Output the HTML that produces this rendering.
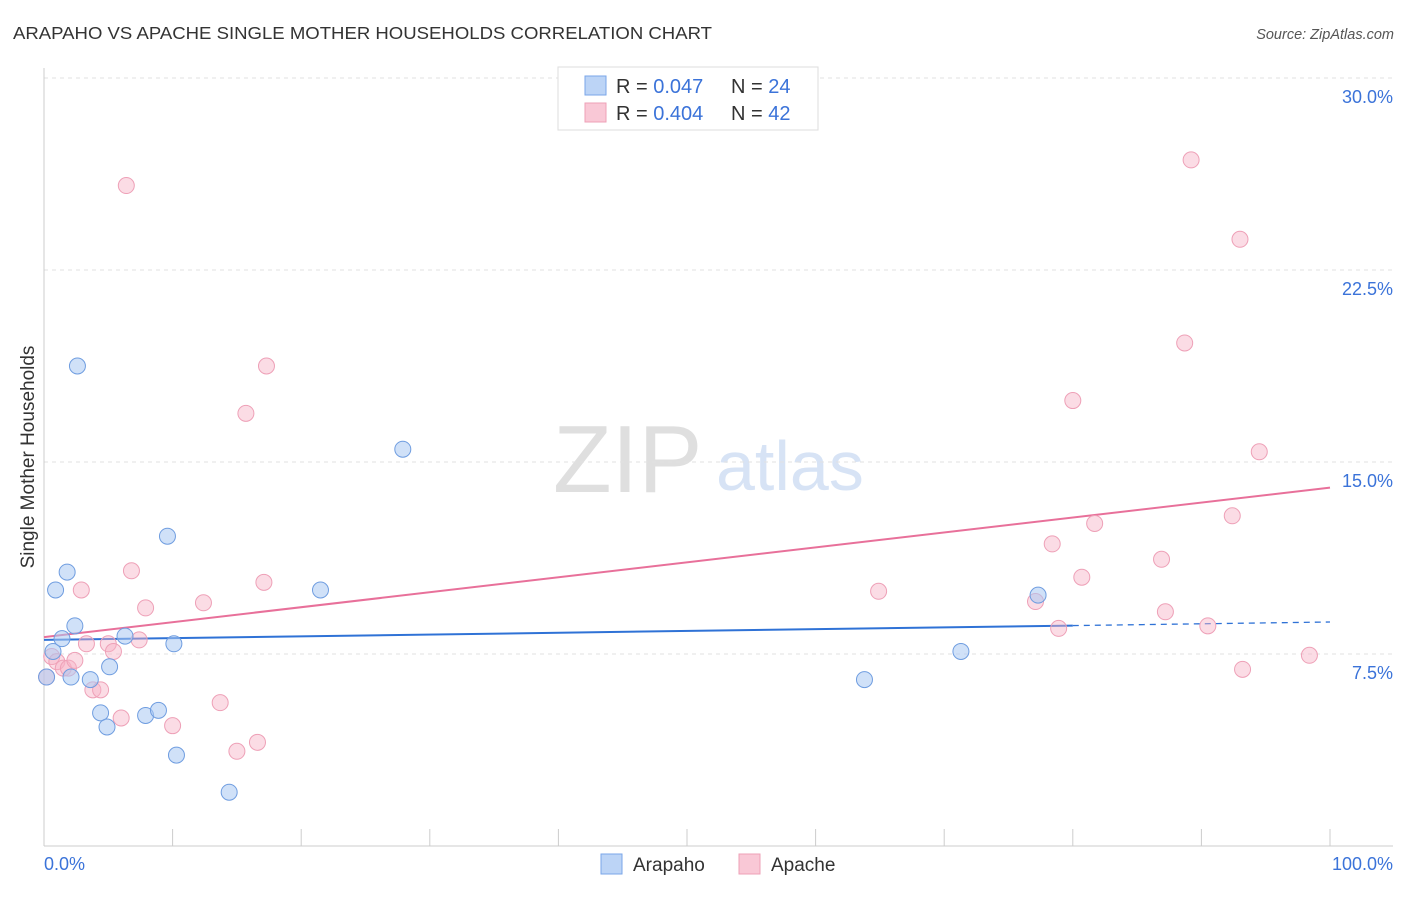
<!DOCTYPE html>
<html><head><meta charset="utf-8"><style>
body{margin:0;background:#fff;font-family:"Liberation Sans",sans-serif;}
svg text{font-family:"Liberation Sans",sans-serif;}
</style></head><body>
<svg id="chart" width="1406" height="892" xmlns="http://www.w3.org/2000/svg">
<text x="13" y="39" font-size="17.5" fill="#333" textLength="699" lengthAdjust="spacingAndGlyphs">ARAPAHO VS APACHE SINGLE MOTHER HOUSEHOLDS CORRELATION CHART</text>
<text x="1394" y="39" font-size="14.5" fill="#555" font-style="italic" text-anchor="end">Source: ZipAtlas.com</text>
<g opacity="0.9">
<text x="553" y="492" font-size="96" font-family="Liberation Serif,serif" fill="#dcdcdc">ZIP</text>
<text x="716" y="490" font-size="70" fill="#d3e1f5">atlas</text>
</g>
<g id="grid"></g>
<line x1="44" y1="68" x2="44" y2="846" stroke="#ccc"/>
<line x1="44" y1="846" x2="1393" y2="846" stroke="#ccc"/>
<g id="xticks"></g>
<text x="34" y="457" font-size="19" fill="#333" text-anchor="middle" transform="rotate(-90 34 457)">Single Mother Households</text>
<text x="44" y="870" font-size="18" fill="#3b73d9">0.0%</text>
<text x="1393" y="870" font-size="18" fill="#3b73d9" text-anchor="end">100.0%</text>
<g id="trends"></g>
<g id="points"></g>
<g>
<rect x="558" y="67" width="260" height="63" fill="#fff" stroke="#ddd"/>
<rect x="585" y="76" width="21" height="19" fill="#bcd4f6" stroke="#7aa6e8"/>
<text x="616" y="93" font-size="20" fill="#333">R = <tspan fill="#3b73d9">0.047</tspan></text>
<text x="731" y="93" font-size="20" fill="#333">N = <tspan fill="#3b73d9">24</tspan></text>
<rect x="585" y="103" width="21" height="19" fill="#f9c8d6" stroke="#eea0b7"/>
<text x="616" y="120" font-size="20" fill="#333">R = <tspan fill="#3b73d9">0.404</tspan></text>
<text x="731" y="120" font-size="20" fill="#333">N = <tspan fill="#3b73d9">42</tspan></text>
</g>
<g>
<rect x="601" y="854" width="21" height="20" fill="#bcd4f6" stroke="#7aa6e8"/>
<text x="633" y="871" font-size="19" fill="#333">Arapaho</text>
<rect x="739" y="854" width="21" height="20" fill="#f9c8d6" stroke="#eea0b7"/>
<text x="771" y="871" font-size="19" fill="#333">Apache</text>
</g>
</svg>
<script>
const yTicks=[7.5,15,22.5,30];
const yTickLabels=["7.5%","15.0%","22.5%","30.0%"];
const xTicks=[0,10,20,30,40,50,60,70,80,90,100];
const arapahoX=[0.2,0.7,0.9,1.4,1.8,2.1,2.4,2.6,3.6,4.4,4.9,5.1,6.3,7.9,8.9,9.6,10.1,10.3,14.4,21.5,27.9,63.8,71.3,77.3];
const arapahoY=[6.6,7.6,10.0,8.1,10.7,6.6,8.6,18.75,6.5,5.2,4.65,7.0,8.2,5.1,5.3,12.1,7.9,3.55,2.1,10.0,15.5,6.5,7.6,9.8];
const apacheX=[0.2,0.6,1.0,1.5,1.9,2.4,2.9,3.3,3.8,4.4,5.0,5.4,6.0,6.4,6.8,7.4,7.9,10.0,12.4,13.7,15.0,15.7,16.6,17.1,17.3,64.9,77.1,78.4,78.9,80.0,80.7,81.7,86.9,87.2,88.7,89.2,90.5,92.4,93.0,93.2,94.5,98.4];
const apacheY=[6.6,7.4,7.2,6.95,6.95,7.25,10.0,7.9,6.1,6.1,7.9,7.6,5.0,25.8,10.75,8.05,9.3,4.7,9.5,5.6,3.7,16.9,4.05,10.3,18.75,9.95,9.55,11.8,8.5,17.4,10.5,12.6,11.2,9.15,19.65,26.8,8.6,12.9,23.7,6.9,15.4,7.45];
const arapahoTrend=[8.05,8.75];
const apacheTrend=[8.16,14.0];
const NS="http://www.w3.org/2000/svg";
const xs=v=>44+v*12.86;
const ys=v=>846-v*25.6;
function mk(tag,attrs,parent){const e=document.createElementNS(NS,tag);for(const k in attrs)e.setAttribute(k,attrs[k]);document.getElementById(parent).appendChild(e);return e;}
yTicks.forEach((t,i)=>{
 const l=mk('line',{x1:44,x2:1393,y1:ys(t),y2:ys(t),stroke:'#e2e2e2','stroke-dasharray':'4 4'},'grid');
 
 
 const tx=mk('text',{x:1393,y:ys(t)+25,'font-size':18,fill:'#3b73d9','text-anchor':'end'},'grid');
 tx.textContent=yTickLabels[i];
 
 
});
xTicks.forEach(t=>{
 const l=mk('line',{x1:xs(t),x2:xs(t),y1:829,y2:846,stroke:'#ccc'},'xticks');
 
 
});
let l=mk('line',{x1:xs(0),y1:ys(apacheTrend[0]),x2:xs(100),y2:ys(apacheTrend[1]),stroke:'#e8709a','stroke-width':2},'trends');


const bAt=x=>arapahoTrend[0]+(arapahoTrend[1]-arapahoTrend[0])*x/100;
l=mk('line',{x1:xs(0),y1:ys(bAt(0)),x2:xs(80),y2:ys(bAt(80)),stroke:'#2f72d6','stroke-width':2},'trends');


l=mk('line',{x1:xs(80),y1:ys(bAt(80)),x2:xs(100),y2:ys(bAt(100)),stroke:'#2f72d6','stroke-width':1.3,'stroke-dasharray':'6 5'},'trends');


apacheX.forEach((x,i)=>{
 const c=mk('circle',{cx:xs(x),cy:ys(apacheY[i]),r:8,fill:'rgba(246,178,198,0.45)',stroke:'#eea0b7','stroke-width':1},'points');
 
 
});
arapahoX.forEach((x,i)=>{
 const c=mk('circle',{cx:xs(x),cy:ys(arapahoY[i]),r:8,fill:'rgba(170,200,242,0.55)',stroke:'#6f9de0','stroke-width':1},'points');
 
 
});
</script>
</body></html>
